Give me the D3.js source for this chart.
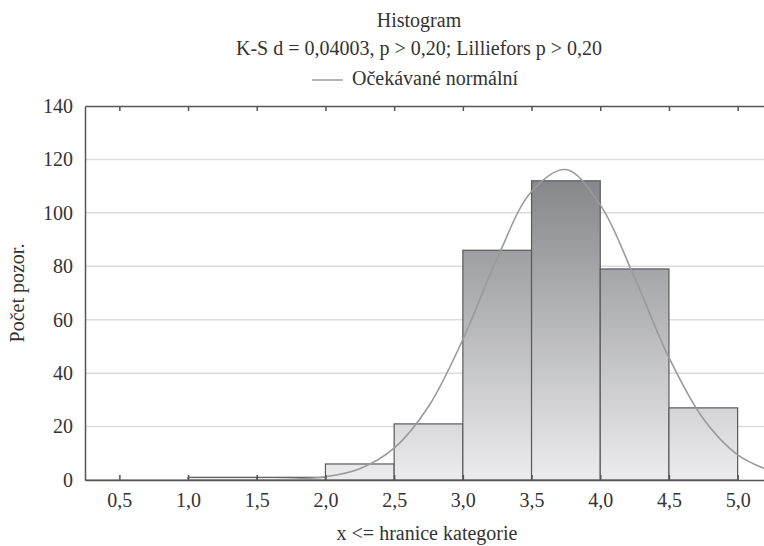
<!DOCTYPE html>
<html>
<head>
<meta charset="utf-8">
<script src="https://cdn.jsdelivr.net/npm/d3@7"></script>
<style>
  body { margin: 0; background: #fff; }
  svg { display: block; font-family: "Liberation Serif", "DejaVu Serif", serif; }
</style>
</head>
<body>
<svg id="chart"></svg>
<script>
// histogram bins (upper bounds) and counts
var binStarts = [1.0, 1.5, 2.0, 2.5, 3.0, 3.5, 4.0, 4.5];
var binWidth = 0.5;
var counts = [1, 1, 6, 21, 86, 112, 79, 27];

// expected normal curve
var curveX = [0.25, 0.5, 0.75, 1.0, 1.25, 1.5, 1.75, 2.0, 2.25, 2.5, 2.75, 3.0, 3.25, 3.5, 3.75, 4.0, 4.25, 4.5, 4.75, 5.0, 5.25];
var curveY = [0, 0, 0, 0, 0, 0.06, 0.3, 1.2, 4.2, 11.9, 27.5, 52.6, 83, 108, 116.2, 103, 75.7, 45.8, 22.9, 9.4, 3.2];

var xTicks = [0.5, 1.0, 1.5, 2.0, 2.5, 3.0, 3.5, 4.0, 4.5, 5.0];
var yTicks = [0, 20, 40, 60, 80, 100, 120, 140];

var titleText = "Histogram";
var subtitleText = "K-S d = 0,04003, p > 0,20; Lilliefors p > 0,20";
var legendText = "Očekávané normální";
var xTitle = "x <= hranice kategorie";
var yTitle = "Počet pozor.";

var W = 764, H = 546;
var margin = {top: 106, right: -8, bottom: 66, left: 85};
var width = W - margin.left - margin.right,
    height = H - margin.top - margin.bottom;
var fs = 20;

var svg = d3.select("#chart").attr("width", W).attr("height", H);

var defs = svg.append("defs");
var grad = defs.append("linearGradient")
    .attr("id", "barGrad")
    .attr("gradientUnits", "userSpaceOnUse")
    .attr("x1", 0).attr("x2", 0)
    .attr("y1", 0).attr("y2", height);
grad.append("stop").attr("offset", "0%").attr("stop-color", "#6d6e72");
grad.append("stop").attr("offset", "100%").attr("stop-color", "#ececee");

var x = d3.scaleLinear().domain([0.25, 5.25]).range([0, width]);
var y = d3.scaleLinear().domain([0, 140]).range([height, 0]);

var g = svg.append("g").attr("transform", "translate(" + margin.left + "," + margin.top + ")");

// gridlines
g.append("g")
    .selectAll("line")
    .data(yTicks.filter(function(d) { return d > 0 && d < 140; }))
    .enter().append("line")
    .attr("x1", 0).attr("x2", width)
    .attr("y1", function(d) { return y(d); })
    .attr("y2", function(d) { return y(d); })
    .attr("stroke", "#dcdcdc")
    .attr("stroke-width", 1.5);

// bars
g.append("g")
    .selectAll("rect")
    .data(counts)
    .enter().append("rect")
    .attr("x", function(d, i) { return x(binStarts[i]); })
    .attr("width", function(d, i) { return x(binStarts[i] + binWidth) - x(binStarts[i]); })
    .attr("y", function(d) { return y(d); })
    .attr("height", function(d) { return y(0) - y(d); })
    .attr("fill", "url(#barGrad)")
    .attr("stroke", "#5a5a5a")
    .attr("stroke-width", 1.2);

// normal curve
var line = d3.line()
    .curve(d3.curveCatmullRom)
    .x(function(d, i) { return x(curveX[i]); })
    .y(function(d) { return y(d); });

g.append("path")
    .datum(curveY)
    .attr("d", line)
    .attr("fill", "none")
    .attr("stroke", "#9a9a9a")
    .attr("stroke-width", 1.6);

// frame: bottom axis with inward ticks
var xAxis = g.append("g")
    .attr("transform", "translate(0," + height + ")")
    .call(d3.axisBottom(x).tickValues(xTicks).tickSizeInner(-5).tickSizeOuter(0)
        .tickPadding(13).tickFormat(function(d) { return d3.format(".1f")(d).replace(".", ","); }));
xAxis.select(".domain").attr("stroke", "#555").attr("stroke-width", 1.5);
xAxis.selectAll(".tick line").attr("stroke", "#555").attr("stroke-width", 1.5);
xAxis.selectAll("text").attr("font-size", fs).attr("fill", "#333")
    .attr("font-family", "Liberation Serif");

// top frame with inward ticks
var xTop = g.append("g")
    .call(d3.axisTop(x).tickValues(xTicks).tickSizeInner(-5).tickSizeOuter(0).tickFormat(""));
xTop.select(".domain").attr("stroke", "#555").attr("stroke-width", 1.5);
xTop.selectAll(".tick line").attr("stroke", "#555").attr("stroke-width", 1.5);

// left axis
var yAxis = g.append("g")
    .call(d3.axisLeft(y).tickValues(yTicks).tickSize(0).tickPadding(12));
yAxis.select(".domain").attr("stroke", "#555").attr("stroke-width", 1.5);
yAxis.selectAll("text").attr("font-size", fs).attr("fill", "#333")
    .attr("font-family", "Liberation Serif");

// titles
var cx = 419;
svg.append("text").attr("x", cx).attr("y", 27).attr("text-anchor", "middle")
    .attr("font-size", fs).attr("fill", "#333").text(titleText);
svg.append("text").attr("x", cx).attr("y", 55).attr("text-anchor", "middle")
    .attr("font-size", fs).attr("fill", "#333").text(subtitleText);

// legend
var legend = svg.append("g");
legend.append("line")
    .attr("x1", 312).attr("x2", 343).attr("y1", 80).attr("y2", 80)
    .attr("stroke", "#9a9a9a").attr("stroke-width", 1.5);
legend.append("text").attr("x", 352).attr("y", 85)
    .attr("font-size", fs).attr("fill", "#333").text(legendText);

// axis titles
svg.append("text").attr("x", 427).attr("y", 540).attr("text-anchor", "middle")
    .attr("font-size", fs).attr("fill", "#333").text(xTitle);
svg.append("text")
    .attr("transform", "translate(24," + (margin.top + height / 2) + ") rotate(-90)")
    .attr("text-anchor", "middle")
    .attr("font-size", fs).attr("fill", "#333").text(yTitle);
</script>
</body>
</html>
